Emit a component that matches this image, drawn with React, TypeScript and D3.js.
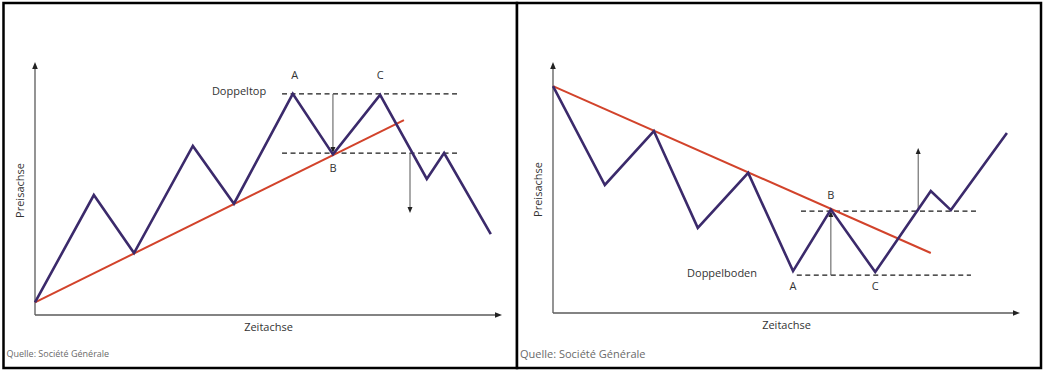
import React from "react";
import * as d3 from "d3";

// price path for the double top (time, price in arbitrary units 0..100)
const topTime = [0, 12.6, 21.2, 33.8, 42.6, 55.2, 63.8, 73.9, 83.9, 87.6, 97.6];
const topPrice = [5, 47.4, 24.5, 66.8, 44, 87.4, 63.5, 87, 53.8, 64, 32];
const topTrend = [[0, 5], [79, 77]];
const topLevels = [
	{ y: 87.4, x0: 52.9, x1: 90.4 },
	{ y: 64, x0: 52.9, x1: 90.4 },
];
const topArrows = [
	{ x: 63.8, from: 87.4, to: 64 },
	{ x: 80.3, from: 64, to: 40.3 },
];
const topLabels = [
	{ text: "A", x: 55.6, y: 94.5, anchor: "middle" },
	{ text: "C", x: 73.9, y: 94.5, anchor: "middle" },
	{ text: "B", x: 63.8, y: 57.5, anchor: "middle" },
	{ text: "Doppeltop", x: 49.5, y: 88.3, anchor: "end" },
];

// price path for the double bottom
const botTime = [0, 11.1, 21.6, 31, 41.8, 51.4, 59.5, 69, 80.9, 85.2, 97.2];
const botPrice = [90.4, 51, 72.5, 33.9, 55.8, 16.7, 41.2, 16.3, 48.6, 41, 71.7];
const botTrend = [[0, 90.4], [80.9, 23.9]];
const botLevels = [
	{ y: 40.6, x0: 53.1, x1: 91 },
	{ y: 15.1, x0: 52.2, x1: 89.5 },
];
const botArrows = [
	{ x: 59.5, from: 15.1, to: 40.6 },
	{ x: 78.2, from: 40.6, to: 65.7 },
];
const botLabels = [
	{ text: "B", x: 59.5, y: 46.6, anchor: "middle" },
	{ text: "A", x: 51.4, y: 10.4, anchor: "middle" },
	{ text: "C", x: 69, y: 10.4, anchor: "middle" },
	{ text: "Doppelboden", x: 36.2, y: 15.5, anchor: "middle" },
];

const purple = "#3b2a6b";
const red = "#d2432b";
const axisColor = "#5a5a5a";
const font = "'Open Sans', sans-serif";

const Panel = (props) => {
	const { left, width, x0, x1, yTop, yBottom, time, price, trend, levels, arrows, labels, quelleSize } = props;
	const xScale = d3.scaleLinear().domain([0, 100]).range([x0, x1]);
	const yScale = d3.scaleLinear().domain([0, 100]).range([yBottom, yTop]);
	const path = d3
		.line()
		.x((d) => xScale(d[0]))
		.y((d) => yScale(d[1]));
	const pts = time.map((t, i) => [t, price[i]]);

	return (
		<g>
			<rect x={left} y={3} width={width} height={365} fill="#fff" stroke="#000" strokeWidth={2.5} />
			{/* axes */}
			<line x1={x0} y1={yBottom} x2={x0} y2={yTop + 4} stroke={axisColor} strokeWidth={1.3} />
			<line x1={x0} y1={yBottom} x2={x1 - 4} y2={yBottom} stroke={axisColor} strokeWidth={1.3} />
			<path d={`M${x0 - 2.8},${yTop + 7}L${x0},${yTop}L${x0 + 2.8},${yTop + 7}Z`} fill="#222" />
			<path d={`M${x1 - 7},${yBottom - 2.8}L${x1},${yBottom}L${x1 - 7},${yBottom + 2.8}Z`} fill="#222" />
			{/* support / resistance levels */}
			{levels.map((l, i) => (
				<line
					key={"l" + i}
					x1={xScale(l.x0)}
					x2={xScale(l.x1)}
					y1={yScale(l.y)}
					y2={yScale(l.y)}
					stroke="#1a1a1a"
					strokeWidth={1.1}
					strokeDasharray="5,3.5"
				/>
			))}
			{arrows.map((a, i) => {
				const xa = xScale(a.x);
				const ya = yScale(a.to);
				const dir = a.to < a.from ? 1 : -1;
				return (
					<g key={"a" + i}>
						<line x1={xa} x2={xa} y1={yScale(a.from)} y2={ya - dir * 3} stroke="#555" strokeWidth={1} />
						<path d={`M${xa - 2.5},${ya - dir * 6}L${xa},${ya}L${xa + 2.5},${ya - dir * 6}Z`} fill="#222" />
					</g>
				);
			})}
			<path d={path(trend)} fill="none" stroke={red} strokeWidth={2} />
			<path d={path(pts)} fill="none" stroke={purple} strokeWidth={2.6} strokeLinejoin="miter" />
			{labels.map((l, i) => (
				<text
					key={"t" + i}
					x={xScale(l.x)}
					y={yScale(l.y)}
					textAnchor={l.anchor}
					dominantBaseline="middle"
					fontFamily={font}
					fontSize={11}
					fill="#333"
				>
					{l.text}
				</text>
			))}
			<text
				x={0}
				y={0}
				transform={`translate(${x0 - 14},${(yTop + yBottom) / 2 + 2}) rotate(-90)`}
				textAnchor="middle"
				dominantBaseline="middle"
				fontFamily={font}
				fontSize={11}
				fill="#333"
			>
				Preisachse
			</text>
			<text
				x={xScale(50)}
				y={yBottom + 13}
				textAnchor="middle"
				dominantBaseline="middle"
				fontFamily={font}
				fontSize={11}
				fill="#333"
			>
				Zeitachse
			</text>
			<text
				x={left + 3}
				y={355}
				dominantBaseline="middle"
				fontFamily={font}
				fontSize={quelleSize}
				fill="#6a6a6a"
			>
				Quelle: Société Générale
			</text>
		</g>
	);
};

export default function App() {
	return (
		<svg width={1043} height={372} style={{ position: "absolute", left: 0, top: 0, background: "#fff" }}>
			<Panel
				left={3.5}
				width={513.5}
				x0={35}
				x1={502}
				yTop={62}
				yBottom={315}
				time={topTime}
				price={topPrice}
				trend={topTrend}
				levels={topLevels}
				arrows={topArrows}
				labels={topLabels}
				quelleSize={9}
			/>
			<Panel
				left={517}
				width={524}
				x0={553}
				x1={1020}
				yTop={62}
				yBottom={313}
				time={botTime}
				price={botPrice}
				trend={botTrend}
				levels={botLevels}
				arrows={botArrows}
				labels={botLabels}
				quelleSize={11}
			/>
		</svg>
	);
}
